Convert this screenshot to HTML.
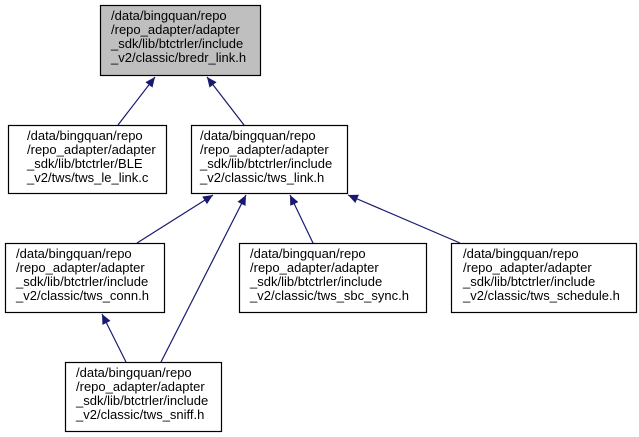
<!DOCTYPE html>
<html><head><meta charset="utf-8"><style>
html,body{margin:0;padding:0;background:#fff;}
svg{display:block;}
text{font-family:"Liberation Sans",sans-serif;font-size:13px;fill:#000;}
</style></head><body>
<svg width="639" height="437" viewBox="0 0 639 437" xmlns="http://www.w3.org/2000/svg">
<defs>
<marker id="a" markerWidth="10" markerHeight="9" refX="10" refY="4.5" orient="auto" markerUnits="userSpaceOnUse">
<path d="M0,0 L10,4.5 L0,9 Z" fill="#191970"/>
</marker>
</defs>
<g stroke="#191970" stroke-width="1.2" fill="none">
<line x1="118" y1="125" x2="155" y2="77" marker-end="url(#a)"/>
<line x1="244" y1="125" x2="207" y2="77" marker-end="url(#a)"/>
<line x1="137" y1="243" x2="213" y2="195" marker-end="url(#a)"/>
<line x1="161" y1="362" x2="246" y2="195" marker-end="url(#a)"/>
<line x1="313" y1="243" x2="290" y2="195" marker-end="url(#a)"/>
<line x1="460" y1="243" x2="348" y2="195" marker-end="url(#a)"/>
<line x1="126" y1="362" x2="102" y2="314" marker-end="url(#a)"/>
</g>
<g stroke="#000" stroke-width="1.2">
<rect x="100.5" y="5.5" width="160" height="70" fill="#bfbfbf"/>
<rect x="8.5" y="125.5" width="158" height="68" fill="#fff"/>
<rect x="191.5" y="125.5" width="156" height="68" fill="#fff"/>
<rect x="5.5" y="243.5" width="159" height="69" fill="#fff"/>
<rect x="239.5" y="243.5" width="187" height="69" fill="#fff"/>
<rect x="451.5" y="243.5" width="185" height="69" fill="#fff"/>
<rect x="65.5" y="362.5" width="156" height="69" fill="#fff"/>
</g>
<text x="111" y="20">/data/bingquan/repo</text>
<text x="111" y="34">/repo_adapter/adapter</text>
<text x="111" y="48">_sdk/lib/btctrler/include</text>
<text x="111" y="62">_v2/classic/bredr_link.h</text>

<text x="27" y="140">/data/bingquan/repo</text>
<text x="27" y="154">/repo_adapter/adapter</text>
<text x="27" y="168">_sdk/lib/btctrler/BLE</text>
<text x="27" y="182">_v2/tws/tws_le_link.c</text>

<text x="200" y="140">/data/bingquan/repo</text>
<text x="200" y="154">/repo_adapter/adapter</text>
<text x="200" y="168">_sdk/lib/btctrler/include</text>
<text x="200" y="182">_v2/classic/tws_link.h</text>

<text x="16" y="258">/data/bingquan/repo</text>
<text x="16" y="272">/repo_adapter/adapter</text>
<text x="16" y="286">_sdk/lib/btctrler/include</text>
<text x="16" y="300">_v2/classic/tws_conn.h</text>

<text x="250" y="258">/data/bingquan/repo</text>
<text x="250" y="272">/repo_adapter/adapter</text>
<text x="250" y="286">_sdk/lib/btctrler/include</text>
<text x="250" y="300">_v2/classic/tws_sbc_sync.h</text>

<text x="463" y="258">/data/bingquan/repo</text>
<text x="463" y="272">/repo_adapter/adapter</text>
<text x="463" y="286">_sdk/lib/btctrler/include</text>
<text x="463" y="300">_v2/classic/tws_schedule.h</text>

<text x="76" y="377">/data/bingquan/repo</text>
<text x="76" y="391">/repo_adapter/adapter</text>
<text x="76" y="405">_sdk/lib/btctrler/include</text>
<text x="76" y="419">_v2/classic/tws_sniff.h</text>
</svg>
</body></html>
